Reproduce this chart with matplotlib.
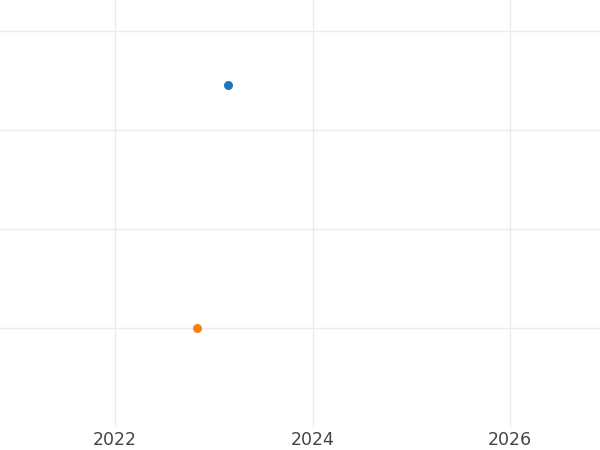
#import packages
import matplotlib
matplotlib.use("Agg")
import matplotlib.pyplot as plt

#data
series_names = ["A", "B"]
x_years = [2023.14, 2022.83]
y_values = [3.45, 1.0]
colors = ["#1f77b4", "#ff7f0e"]
x_ticks = [2022, 2024, 2026]
y_ticks = [1, 2, 3, 4]

#figure with axes filling the canvas
fig = plt.figure(figsize=(6, 4.5), dpi=100)
ax = fig.add_axes([0, 23 / 450, 1, 427 / 450])

for name, x, y, c in zip(series_names, x_years, y_values, colors):
    ax.scatter([x], [y], s=42, color=c, label=name, zorder=3, linewidths=0)

ax.set_xlim(2020.835, 2026.911)
ax.set_ylim(0, 4.313)
ax.set_xticks(x_ticks)
ax.set_xticklabels([str(t) for t in x_ticks])
ax.set_yticks(y_ticks)
ax.set_yticklabels([])
ax.grid(True, color="#ebebeb", linewidth=1.0)
ax.set_axisbelow(True)
for s in ax.spines.values():
    s.set_visible(False)
ax.tick_params(axis="both", length=0, pad=3, labelsize=12.5, labelcolor="#444444")

fig.savefig("out.png", dpi=100, facecolor="white")
